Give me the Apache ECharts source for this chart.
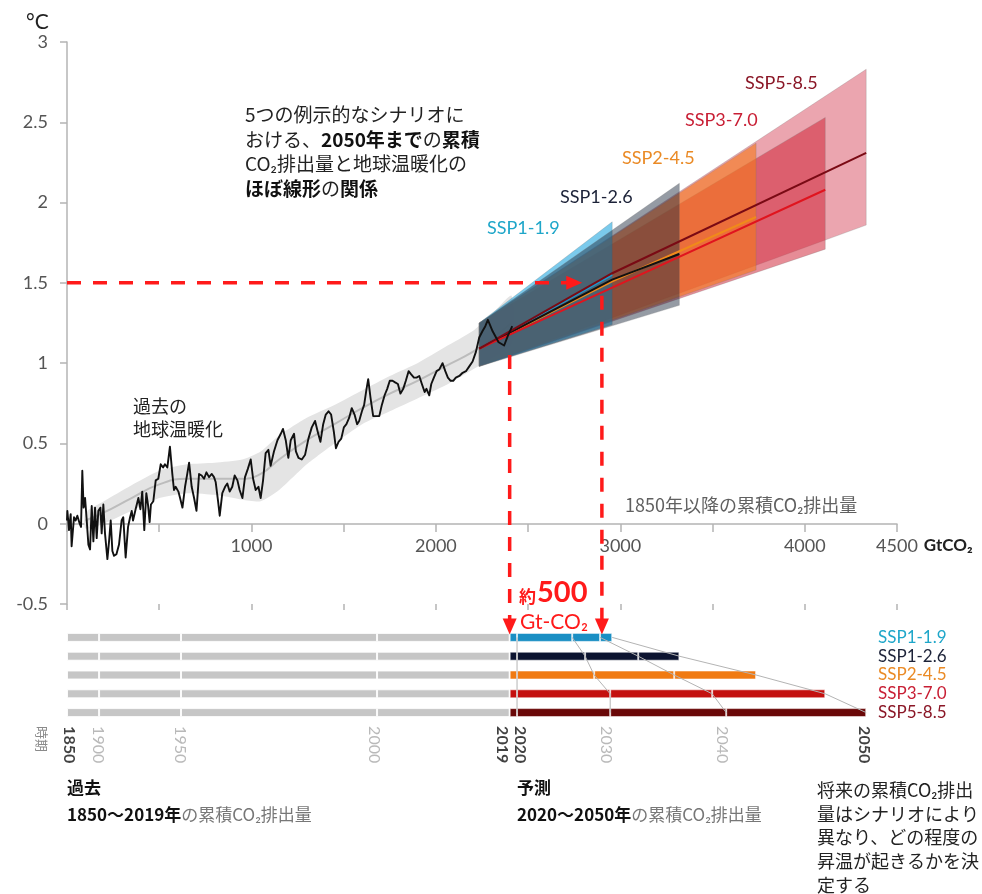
<!DOCTYPE html>
<html>
<head>
<meta charset="utf-8">
<title>累積CO2排出量と地球温暖化</title>
<script src="https://cdn.jsdelivr.net/npm/echarts@6/dist/echarts.min.js"></script>
<style>
  html, body { margin: 0; padding: 0; background: #ffffff; }
  #chart { width: 982px; height: 894px; }
</style>
</head>
<body>
<div id="chart"></div>
<script>
// ---------------------------------------------------------------
// Data
// ---------------------------------------------------------------

// Scenario names (top to bottom in the emissions bars)
const scenarios = ['SSP1-1.9', 'SSP1-2.6', 'SSP2-4.5', 'SSP3-7.0', 'SSP5-8.5'];

// Observed warming vs. cumulative CO2 since 1850: [GtCO2, °C]
const historical = [
  [0,0.02],[2,0.08],[11,-0.04],[20,0.06],[25,-0.14],[38,0.04],[47,0.02],[56,0.05],[69,0.0],[76,-0.02],
  [83,0.33],[90,0.10],[98,0.16],[107,0.02],[116,-0.13],[125,-0.16],[134,0.11],[143,-0.11],[152,0.10],[161,-0.09],
  [170,0.08],[181,0.10],[188,-0.06],[197,0.12],[206,-0.06],[219,-0.22],[228,-0.11],[237,0.02],[246,-0.17],[255,-0.20],
  [268,-0.19],[282,-0.13],[296,0.02],[305,0.04],[318,-0.21],[331,-0.02],[342,0.04],[351,0.08],[358,0.02],[372,0.09],
  [387,0.16],[398,0.09],[408,0.20],[419,-0.04],[430,0.19],[439,0.12],[448,0.01],[455,0.12],[468,0.14],[481,0.27],
  [495,0.28],[508,0.37],[521,0.35],[531,0.37],[544,0.35],[558,0.48],[571,0.31],[580,0.21],[589,0.23],[604,0.20],
  [613,0.16],[626,0.10],[640,0.23],[652,0.31],[662,0.38],[676,0.23],[689,0.16],[702,0.08],[716,0.31],[730,0.30],
  [743,0.28],[756,0.32],[770,0.29],[785,0.31],[797,0.29],[806,0.26],[819,0.14],[828,0.05],[842,0.19],[857,0.23],
  [869,0.25],[882,0.20],[896,0.23],[909,0.30],[924,0.27],[936,0.21],[951,0.16],[965,0.29],[980,0.34],[996,0.40],
  [1009,0.28],[1023,0.21],[1038,0.23],[1050,0.16],[1063,0.27],[1077,0.44],[1092,0.46],[1104,0.36],[1122,0.45],[1141,0.52],
  [1159,0.56],[1171,0.59],[1186,0.52],[1200,0.41],[1213,0.52],[1231,0.56],[1241,0.45],[1255,0.41],[1273,0.40],[1291,0.43],
  [1309,0.53],[1327,0.60],[1345,0.64],[1360,0.57],[1374,0.51],[1389,0.62],[1403,0.68],[1418,0.70],[1432,0.68],[1447,0.57],
  [1458,0.47],[1472,0.51],[1487,0.53],[1501,0.60],[1515,0.62],[1530,0.66],[1544,0.72],[1559,0.68],[1573,0.62],[1584,0.64],
  [1599,0.70],[1611,0.74],[1624,0.84],[1633,0.90],[1646,0.78],[1660,0.67],[1678,0.67],[1693,0.67],[1707,0.74],[1722,0.80],
  [1736,0.84],[1750,0.89],[1765,0.89],[1779,0.88],[1794,0.87],[1808,0.81],[1823,0.84],[1837,0.89],[1852,0.95],[1866,0.93],
  [1881,0.91],[1895,0.91],[1910,0.92],[1924,0.87],[1939,0.82],[1949,0.84],[1964,0.80],[1975,0.87],[1989,0.91],[2004,0.95],
  [2018,0.96],[2036,1.00],[2051,0.95],[2065,0.91],[2080,0.89],[2094,0.89],[2108,0.91],[2127,0.92],[2145,0.94],[2163,0.95],
  [2181,0.98],[2199,1.01],[2217,1.07],[2235,1.16],[2253,1.20],[2268,1.23],[2282,1.27],[2307,1.20],[2340,1.13],[2370,1.11],
  [2390,1.17],[2414,1.23]
];

// Smoothed historical estimate with its likely range
const trendGt   = [100,  200,  350,  500,  650,  800,  950,  1050, 1150, 1300, 1450, 1600, 1750, 1900, 2050, 2200, 2300, 2410];
const trendLow  = [-0.03, 0.00, 0.08, 0.16, 0.19, 0.18, 0.15, 0.14, 0.21, 0.37, 0.50, 0.62, 0.70, 0.78, 0.86, 0.96, 1.03, 1.12];
const trendHigh = [0.07,  0.14, 0.24, 0.33, 0.37, 0.38, 0.40, 0.45, 0.55, 0.66, 0.74, 0.83, 0.92, 1.00, 1.10, 1.20, 1.30, 1.42];
const trendMid  = [0.02,  0.07, 0.16, 0.245,0.28, 0.28, 0.28, 0.31, 0.40, 0.52, 0.62, 0.72, 0.81, 0.89, 0.98, 1.07, 1.15, 1.25];

// Cumulative CO2 (GtCO2) reached at each year
const histYears = ['1900', '1950', '2000', '2019'];
const histCum   = [174, 618, 1681, 2400];
const cum2020 = 2440;
const cum2030 = [2739, 2809, 2858, 2945, 2945];
const cum2040 = [2890, 3097, 3292, 3498, 3574];
const cum2050 = [2956, 3320, 3736, 4111, 4333];

// Projected warming ranges to 2050 (°C)
const projStartGt   = 2235;
const projStartLow  = [0.98, 0.98, 0.98, 0.98, 0.98];
const projStartHigh = [1.25, 1.25, 1.25, 1.25, 1.25];
const projEndLow    = [1.24, 1.36, 1.58, 1.71, 1.86];
const projEndHigh   = [1.88, 2.12, 2.37, 2.53, 2.83];

// Central estimates: start, value at 2956 GtCO2, value at 2050
const medianStart = 1.09;
const medianMidGt = 2956;
const medianMid   = [1.55, 1.52, 1.51, 1.47, 1.56];
const medianEnd   = [1.55, 1.68, 1.91, 2.08, 2.31];

// 1.5 °C level and the remaining ~500 GtCO2
const targetTemp = 1.5;
const budgetGt   = 500;
const arrowGt    = 2750;
const arrowFloor = -0.64;

// Year labels under the emission bars
const yearLabels   = ['1850', '1900', '1950', '2000', '2019', '2020', '2030', '2040', '2050'];
const yearLabelGt  = [14, 174, 618, 1670, 2364, 2457, 2928, 3557, 4322];
const yearLabelKey = [true, false, false, false, true, true, false, false, true];

// Axis tick labels shown on the cumulative-emissions axis
const xTickLabels = [1000, 2000, 3000, 4000, 4500];

// ---------------------------------------------------------------
// Styling
// ---------------------------------------------------------------
const FONT_LATIN = 'Lato, "Noto Sans CJK JP", sans-serif';
const FONT_JP = '"Noto Sans CJK JP", Lato, sans-serif';
const RED = '#ff1a1a';
const AXIS_GREY = '#b4b4b4';

const textColors = ['#1ea6c9', '#1c2238', '#ea8a25', '#c81e34', '#8a1626'];
const barColors  = ['#1a8fc4', '#0c1430', '#f07a12', '#c4100f', '#6a0808'];
const bandFills  = ['rgba(40,170,225,0.62)', 'rgba(30,42,62,0.47)', 'rgba(245,120,25,0.6)',
                    'rgba(205,25,45,0.5)', 'rgba(215,75,95,0.5)'];
const lineColors = ['#1a9ad0', '#111111', '#f08a1a', '#e0141e', '#7a0a14'];
const bandDrawOrder = [4, 3, 2, 0, 1];
const lineDrawOrder = [0, 2, 1, 3, 4];

// ---------------------------------------------------------------
// Series (grid 0 = temperature panel, grid 2 = emission bars)
// ---------------------------------------------------------------
const series = [];

// Likely range of the historical trend (one polygon)
series.push({
  type: 'custom', xAxisIndex: 0, yAxisIndex: 0, silent: true, z: 1,
  data: trendGt.map((g, i) => [g, trendLow[i], trendHigh[i]]),
  encode: { x: 0, y: [1, 2] },
  renderItem: (params, api) => {
    if (params.dataIndex !== 0) return null;
    const pts = [];
    trendGt.forEach((g, i) => pts.push(api.coord([g, trendHigh[i]])));
    for (let i = trendGt.length - 1; i >= 0; i--) pts.push(api.coord([trendGt[i], trendLow[i]]));
    return { type: 'polygon', shape: { points: pts, smooth: 0.2 }, style: { fill: '#e4e4e4' } };
  }
});

series.push({
  type: 'line', xAxisIndex: 0, yAxisIndex: 0, silent: true, z: 2,
  data: trendGt.map((g, i) => [g, trendMid[i]]),
  symbol: 'none', smooth: true,
  lineStyle: { color: '#bcbcbc', width: 2 }
});

// Scenario ranges
series.push({
  type: 'custom', xAxisIndex: 0, yAxisIndex: 0, silent: true, z: 3,
  data: bandDrawOrder.map(i => [projStartGt, cum2050[i], projStartLow[i], projStartHigh[i], projEndLow[i], projEndHigh[i], i]),
  encode: { x: [0, 1], y: [2, 3, 4, 5] },
  renderItem: (params, api) => {
    const x0 = api.value(0), x1 = api.value(1);
    const idx = api.value(6);
    const pts = [
      api.coord([x0, api.value(2)]),
      api.coord([x1, api.value(4)]),
      api.coord([x1, api.value(5)]),
      api.coord([x0, api.value(3)])
    ];
    return {
      type: 'polygon', shape: { points: pts },
      style: { fill: bandFills[idx], stroke: 'rgba(120,120,120,0.25)', lineWidth: 1 }
    };
  }
});

// Central estimates
lineDrawOrder.forEach(i => {
  series.push({
    type: 'line', xAxisIndex: 0, yAxisIndex: 0, silent: true, z: 4,
    name: scenarios[i],
    data: [[projStartGt, medianStart], [Math.min(medianMidGt, cum2050[i]), medianMid[i]], [cum2050[i], medianEnd[i]]],
    symbol: 'none',
    lineStyle: { color: lineColors[i], width: 2 }
  });
});

// Observed warming
series.push({
  type: 'line', xAxisIndex: 0, yAxisIndex: 0, silent: true, z: 5,
  data: historical, symbol: 'none',
  lineStyle: { color: '#111111', width: 1.9, join: 'round' }
});

// Dashed guides with arrowheads
function arrowLine(from, to, rotate) {
  return {
    type: 'line', xAxisIndex: 0, yAxisIndex: 0, silent: true, z: 20, clip: false,
    data: [
      { value: from, symbol: 'none' },
      { value: to, symbol: 'triangle', symbolSize: [14, 16], symbolRotate: rotate }
    ],
    itemStyle: { color: RED, borderWidth: 0 },
    lineStyle: { color: RED, width: 3.5, type: [14, 12] }
  };
}
const histTotal = histCum[histCum.length - 1];
series.push(arrowLine([0, targetTemp], [arrowGt, targetTemp], -90));
series.push(arrowLine([histTotal, 1.05], [histTotal, arrowFloor], 180));
series.push(arrowLine([histTotal + budgetGt, 1.42], [histTotal + budgetGt, arrowFloor], 180));

// Cumulative emission bars: historical segments then 2020/2030/2040/2050
const barBase = { type: 'bar', xAxisIndex: 2, yAxisIndex: 2, stack: 'cum', barWidth: 9, silent: true, z: 2 };
let prev = 0;
histCum.forEach((v, k) => {
  const len = v - prev;
  series.push(Object.assign({}, barBase, {
    name: histYears[k],
    data: scenarios.map(() => len),
    itemStyle: { color: '#c6c6c6', borderColor: 'rgba(255,255,255,0.85)', borderWidth: 1 }
  }));
  prev = v;
});
const projSegments = [
  scenarios.map(() => cum2020 - histTotal),
  scenarios.map((_, i) => cum2030[i] - cum2020),
  scenarios.map((_, i) => cum2040[i] - cum2030[i]),
  scenarios.map((_, i) => cum2050[i] - cum2040[i])
];
projSegments.forEach(seg => {
  series.push(Object.assign({}, barBase, {
    data: seg.map((len, i) => ({
      value: len,
      itemStyle: { color: barColors[i], borderColor: 'rgba(255,255,255,0.55)', borderWidth: 1 }
    }))
  }));
});

// Thin connectors joining the same year across scenarios
[scenarios.map(() => cum2020), cum2030, cum2040, cum2050].forEach(vals => {
  series.push({
    type: 'line', xAxisIndex: 2, yAxisIndex: 2, silent: true, z: 3,
    data: vals.map((v, i) => [v, i]), symbol: 'none',
    lineStyle: { color: '#b4b4b4', width: 1 }
  });
});

// Year labels under the bars
series.push({
  type: 'scatter', xAxisIndex: 2, yAxisIndex: 2, silent: true, z: 6,
  symbolSize: 1, itemStyle: { color: 'rgba(0,0,0,0)' },
  data: yearLabelGt.map(g => [g, scenarios.length - 1]),
  label: {
    show: true, position: [0, 14], rotate: -90, align: 'left', verticalAlign: 'middle',
    formatter: p => (yearLabelKey[p.dataIndex] ? '{b|' : '{g|') + yearLabels[p.dataIndex] + '}',
    rich: {
      b: { fontFamily: FONT_LATIN, fontSize: 16, fontWeight: 'bold', color: '#111' },
      g: { fontFamily: FONT_LATIN, fontSize: 16, color: '#a8a8a8' }
    }
  }
});

// ---------------------------------------------------------------
// Free text
// ---------------------------------------------------------------
function text(x, y, content, style, extra) {
  return Object.assign({
    type: 'text', x: x, y: y, silent: true, z: 30,
    style: Object.assign({
      text: content, align: 'left', verticalAlign: 'middle',
      fontFamily: FONT_JP, fontSize: 18, fill: '#222'
    }, style || {})
  }, extra || {});
}
const boldRich = (size, lh) => ({
  b: { fontFamily: FONT_JP, fontSize: size, fontWeight: 'bold', fill: '#111', lineHeight: lh },
  g: { fontFamily: FONT_JP, fontSize: size, fill: '#777', lineHeight: lh },
  n: { fontFamily: FONT_JP, fontSize: size, fill: '#222', lineHeight: lh }
});

const graphics = [
  text(26, 22, '°C', { fontFamily: FONT_LATIN, fontSize: 21, fill: '#222' }),

  text(245, 103,
    '{n|5つの例示的なシナリオに}\n{n|おける、}{b|2050年まで}{n|の}{b|累積}\n{n|CO₂排出量と地球温暖化の}\n{b|ほぼ線形}{n|の}{b|関係}',
    { verticalAlign: 'top', fontSize: 19, lineHeight: 24.5, rich: boldRich(19, 24.5) }),

  text(133, 395, '過去の\n地球温暖化', { verticalAlign: 'top', fontSize: 18, lineHeight: 22.5 }),

  text(625, 505, '1850年以降の累積CO₂排出量', { fontSize: 18, fill: '#606060' }),

  // scenario names next to the ranges
  text(487, 228, 'SSP1-1.9', { fontFamily: FONT_LATIN, fontSize: 18, fill: textColors[0] }),
  text(560, 197, 'SSP1-2.6', { fontFamily: FONT_LATIN, fontSize: 18, fill: textColors[1] }),
  text(622, 158, 'SSP2-4.5', { fontFamily: FONT_LATIN, fontSize: 18, fill: textColors[2] }),
  text(685, 120, 'SSP3-7.0', { fontFamily: FONT_LATIN, fontSize: 18, fill: textColors[3] }),
  text(745, 83, 'SSP5-8.5', { fontFamily: FONT_LATIN, fontSize: 18, fill: textColors[4] }),

  // remaining budget label
  text(519, 597, '約', { fontSize: 17, fontWeight: 'bold', fill: RED }),
  text(537, 593, String(budgetGt), { fontFamily: FONT_LATIN, fontSize: 29, fontWeight: 'bold', fill: RED }),
  text(520, 622, 'Gt-CO₂', { fontFamily: FONT_LATIN, fontSize: 21, fill: RED }),

  // period caption
  text(42, 726, '時期', { fontSize: 13, fill: '#8a8a8a' }, { rotation: -Math.PI / 2 }),

  // bottom captions
  text(67, 774, '{b|過去}\n{b|1850〜2019年}{g|の累積CO₂排出量}',
    { verticalAlign: 'top', lineHeight: 27, rich: boldRich(17, 27) }),
  text(517, 774, '{b|予測}\n{b|2020〜2050年}{g|の累積CO₂排出量}',
    { verticalAlign: 'top', lineHeight: 27, rich: boldRich(17, 27) }),
  text(817, 778, '将来の累積CO₂排出\n量はシナリオにより\n異なり、どの程度の\n昇温が起きるかを決\n定する',
    { verticalAlign: 'top', fontSize: 18, lineHeight: 23.8, fill: '#222' })
];

// ---------------------------------------------------------------
// Chart
// ---------------------------------------------------------------
// grid 0: full temperature panel (-0.5 to 3 °C) holding all marks
// grid 1: same panel cut at 0 °C, only carrying the emissions axis on the zero line
// grid 2: horizontal cumulative emission bars
const chart = echarts.init(document.getElementById('chart'), null, { renderer: 'canvas' });
chart.setOption({
  animation: false,
  backgroundColor: '#ffffff',
  textStyle: { fontFamily: FONT_LATIN },
  grid: [
    { left: 67, right: 85, top: 42, bottom: 290 },
    { left: 67, right: 85, top: 42, bottom: 370 },
    { left: 67, right: 85, top: 628, bottom: 172 }
  ],
  xAxis: [
    {
      gridIndex: 0, type: 'value', min: 0, max: 4500, interval: 500, position: 'bottom',
      axisLine: { show: false, onZero: false },
      axisTick: { show: true, length: 6, lineStyle: { color: AXIS_GREY, width: 1.5 } },
      axisLabel: { show: false }, splitLine: { show: false }
    },
    {
      gridIndex: 1, type: 'value', min: 0, max: 4500, interval: 500, position: 'bottom',
      axisLine: { show: true, onZero: false, lineStyle: { color: AXIS_GREY, width: 1.5 } },
      axisTick: { show: true, length: 8, lineStyle: { color: AXIS_GREY, width: 1.5 } },
      axisLabel: {
        margin: 13, fontSize: 18, color: '#555', fontFamily: FONT_LATIN,
        formatter: v => (xTickLabels.indexOf(v) >= 0 ? String(v) : '')
      },
      splitLine: { show: false },
      name: 'GtCO₂', nameLocation: 'end', nameGap: 25,
      nameTextStyle: { fontFamily: FONT_LATIN, fontSize: 17, fontWeight: 'bold', color: '#222',
                       verticalAlign: 'top', padding: [13, 0, 0, 0] }
    },
    { gridIndex: 2, type: 'value', min: 0, max: 4500, show: false }
  ],
  yAxis: [
    {
      gridIndex: 0, type: 'value', min: -0.5, max: 3, interval: 0.5,
      axisLine: { show: true, lineStyle: { color: AXIS_GREY, width: 1.5 } },
      axisTick: { show: true, length: 7, lineStyle: { color: AXIS_GREY, width: 1.5 } },
      axisLabel: { margin: 19, fontSize: 18, color: '#555', fontFamily: FONT_LATIN },
      splitLine: { show: false }
    },
    { gridIndex: 1, type: 'value', min: 0, max: 3, show: false },
    {
      gridIndex: 2, type: 'category', data: scenarios, inverse: true, position: 'right',
      axisLine: { show: false }, axisTick: { show: false }, splitLine: { show: false },
      axisLabel: {
        margin: -19,
        formatter: (v, i) => '{s' + i + '|' + v + '}',
        rich: Object.fromEntries(scenarios.map((_, i) => ['s' + i,
          { fontFamily: FONT_LATIN, fontSize: 17, color: textColors[i] }]))
      }
    }
  ],
  series: series,
  graphic: graphics
});
</script>
</body>
</html>
